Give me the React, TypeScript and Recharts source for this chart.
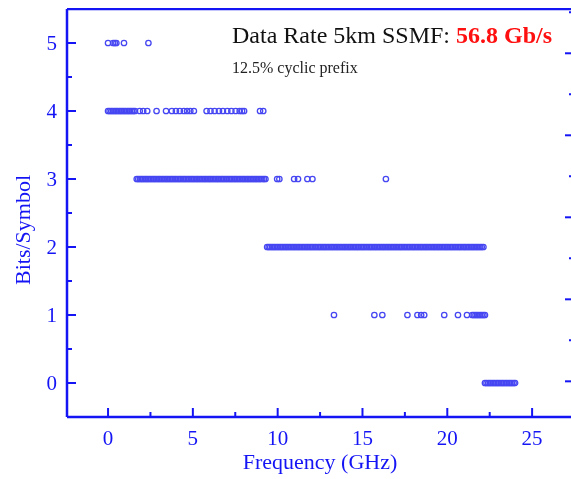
import React from "react";
import { ScatterChart, Scatter, XAxis, YAxis, Label } from "recharts";

// subcarrier frequencies (GHz), grouped by bit loading
const level5 = [0.0, 0.3, 0.4, 0.49, 0.94, 2.38];
const level4 = [
  0.0, 0.09, 0.19, 0.28, 0.38, 0.47, 0.56, 0.66, 0.75, 0.84, 0.94, 1.03, 1.13, 1.22, 1.31, 1.41, 1.5, 1.59,
  1.87, 2.07, 2.31, 2.86, 3.42, 3.76, 4.0, 4.23, 4.47, 4.66, 4.85, 5.06,
  5.81, 6.04, 6.28, 6.54, 6.77, 7.03, 7.27, 7.52, 7.76, 7.9, 8.02, 8.96, 9.15,
];
const level3 = [
  1.69, 1.78, 1.88, 1.97, 2.06, 2.16, 2.25, 2.34, 2.44, 2.53, 2.63, 2.72, 2.81, 2.91,
  3.0, 3.09, 3.19, 3.28, 3.38, 3.47, 3.56, 3.66, 3.75, 3.84, 3.94, 4.03, 4.13, 4.22, 4.31, 4.41,
  4.5, 4.59, 4.69, 4.78, 4.88, 4.97, 5.06, 5.16, 5.25, 5.34, 5.44, 5.53, 5.63, 5.72, 5.81, 5.91,
  6.0, 6.09, 6.19, 6.28, 6.38, 6.47, 6.56, 6.66, 6.75, 6.84, 6.94, 7.03, 7.13, 7.22, 7.31, 7.41,
  7.5, 7.59, 7.69, 7.78, 7.88, 7.97, 8.06, 8.16, 8.25, 8.34, 8.44, 8.53, 8.63, 8.72, 8.81, 8.91,
  9.0, 9.09, 9.19, 9.28,
  9.97, 10.1, 10.97, 11.2, 11.75, 12.05, 16.38,
];
const level2 = [
  9.38, 9.47, 9.56, 9.66, 9.75, 9.84, 9.94, 10.03, 10.13, 10.22, 10.31, 10.41,
  10.5, 10.59, 10.69, 10.78, 10.88, 10.97, 11.06, 11.16, 11.25, 11.34, 11.44, 11.53, 11.63, 11.72, 11.81, 11.91,
  12.0, 12.09, 12.19, 12.28, 12.38, 12.47, 12.56, 12.66, 12.75, 12.84, 12.94, 13.03, 13.13, 13.22, 13.31, 13.41,
  13.5, 13.59, 13.69, 13.78, 13.88, 13.97, 14.06, 14.16, 14.25, 14.34, 14.44, 14.53, 14.63, 14.72, 14.81, 14.91,
  15.0, 15.09, 15.19, 15.28, 15.38, 15.47, 15.56, 15.66, 15.75, 15.84, 15.94, 16.03, 16.13, 16.22, 16.31, 16.41,
  16.5, 16.59, 16.69, 16.78, 16.88, 16.97, 17.06, 17.16, 17.25, 17.34, 17.44, 17.53, 17.63, 17.72, 17.81, 17.91,
  18.0, 18.09, 18.19, 18.28, 18.38, 18.47, 18.56, 18.66, 18.75, 18.84, 18.94, 19.03, 19.13, 19.22, 19.31, 19.41,
  19.5, 19.59, 19.69, 19.78, 19.88, 19.97, 20.06, 20.16, 20.25, 20.34, 20.44, 20.53, 20.63, 20.72, 20.81, 20.91,
  21.0, 21.09, 21.19, 21.28, 21.38, 21.47, 21.56, 21.66, 21.75, 21.84, 21.94, 22.03, 22.13,
];
const level1 = [
  13.32, 15.7, 16.17, 17.65, 18.24, 18.46, 18.64, 19.82, 20.63, 21.16,
  21.47, 21.56, 21.66, 21.75, 21.84, 21.94, 22.03, 22.13, 22.22,
];
const level0 = [
  22.22, 22.31, 22.41, 22.5, 22.59, 22.69, 22.78, 22.88, 22.97, 23.06,
  23.16, 23.25, 23.34, 23.44, 23.53, 23.63, 23.72, 23.81, 23.91, 24.0,
];

const xTicks = [0, 2.5, 5, 7.5, 10, 12.5, 15, 17.5, 20, 22.5, 25];
const yTicks = [0, 0.5, 1, 1.5, 2, 2.5, 3, 3.5, 4, 4.5, 5];
const rightTicks = [0, 5, 10, 15, 20, 25, 30, 35, 40, 45];

const rows = [
  { level: 5, xs: level5 },
  { level: 4, xs: level4 },
  { level: 3, xs: level3 },
  { level: 2, xs: level2 },
  { level: 1, xs: level1 },
  { level: 0, xs: level0 },
];

const BLUE = "#1414f5";
const FONT = "'Liberation Serif', 'Times New Roman', serif";

const Dot = (props: any) => (
  <circle cx={props.cx} cy={props.cy} r={2.7} fill="none" stroke="#4646f2" strokeWidth={1.3} />
);

const XTick = ({ x, y, payload }: any) => {
  const major = payload.value % 5 === 0;
  return (
    <g>
      <line x1={x} x2={x} y1={y} y2={y - (major ? 9 : 5)} stroke={BLUE} strokeWidth={2} />
      {major && (
        <text x={x} y={y + 28} textAnchor="middle" fill={BLUE} fontSize={21} fontFamily={FONT}>
          {payload.value}
        </text>
      )}
    </g>
  );
};

const YTick = ({ x, y, payload }: any) => {
  const major = Number.isInteger(payload.value);
  return (
    <g>
      <line x1={x} x2={x + (major ? 9 : 5)} y1={y} y2={y} stroke={BLUE} strokeWidth={2} />
      {major && (
        <text x={x - 10} y={y + 7} textAnchor="end" fill={BLUE} fontSize={21} fontFamily={FONT}>
          {payload.value}
        </text>
      )}
    </g>
  );
};

const RTick = ({ x, y, payload }: any) => {
  const major = payload.value % 10 === 0;
  return <line x1={x} x2={x - (major ? 9 : 5)} y1={y} y2={y} stroke={BLUE} strokeWidth={2} />;
};

const Titles = () => (
  <g fontFamily={FONT}>
    <text x={224} y={35} fontSize={24} fill="#111">
      Data Rate 5km SSMF:{" "}
      <tspan fill="#ff1010" fontWeight="bold">56.8 Gb/s</tspan>
    </text>
    <text x={224} y={65} fontSize={16} fill="#222">12.5% cyclic prefix</text>
    <text x={312} y={461} textAnchor="middle" fontSize={22} fill={BLUE}>Frequency (GHz)</text>
    <text x={0} y={0} transform="translate(22, 222) rotate(-90)" textAnchor="middle" fontSize={22} fill={BLUE}>
      Bits/Symbol
    </text>
  </g>
);

export default function App() {
  return (
    <div style={{ position: "fixed", left: 8, top: 8, width: 563, height: 471, overflow: "hidden" }}>
      <ScatterChart width={580} height={471} margin={{ top: 0, right: 13, bottom: 0, left: 0 }}>
        <XAxis
          xAxisId={0}
          type="number"
          dataKey="x"
          domain={[-2.42, 27.47]}
          ticks={xTicks}
          interval={0}
          allowDataOverflow
          height={62}
          tickSize={0}
          tickMargin={0}
          tickLine={false}
          tick={<XTick />}
          axisLine={{ stroke: BLUE, strokeWidth: 2.5 }}
        >
          <Label content={<Titles />} />
        </XAxis>
        <XAxis
          xAxisId="top"
          orientation="top"
          type="number"
          domain={[-2.42, 27.47]}
          allowDataOverflow
          height={1}
          tick={false}
          tickLine={false}
          axisLine={{ stroke: BLUE, strokeWidth: 2.5 }}
        />
        <YAxis
          yAxisId={0}
          type="number"
          dataKey="y"
          domain={[-0.5, 5.5]}
          ticks={yTicks}
          interval={0}
          allowDataOverflow
          width={59}
          tickSize={0}
          tickMargin={0}
          tickLine={false}
          tick={<YTick />}
          axisLine={{ stroke: BLUE, strokeWidth: 2.5 }}
        />
        <YAxis
          yAxisId="r"
          orientation="right"
          type="number"
          domain={[-4.35, 45.4]}
          ticks={rightTicks}
          interval={0}
          allowDataOverflow
          width={1}
          tickSize={0}
          tickMargin={0}
          tickLine={false}
          tick={<RTick />}
          axisLine={{ stroke: BLUE, strokeWidth: 2.5 }}
        />
        {rows.map((r) => (
          <Scatter
            key={r.level}
            data={r.xs.map((x) => ({ x, y: r.level }))}
            shape={<Dot />}
            isAnimationActive={false}
          />
        ))}
      </ScatterChart>
    </div>
  );
}
